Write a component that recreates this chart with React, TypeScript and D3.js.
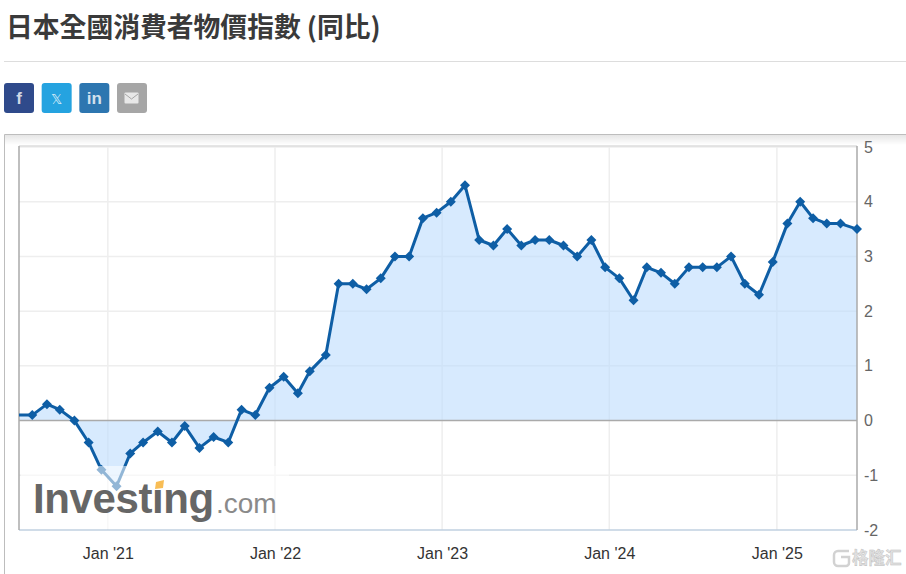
import * as d3 from "d3"
import { useEffect, useRef } from "react"

const WIDTH = 906
const HEIGHT = 574

const title = "日本全國消費者物價指數 (同比)"

// release dates, one per monthly reading
const releaseDates = [
  "2020-06-21", "2020-07-20", "2020-08-21", "2020-09-18", "2020-10-20", "2020-11-20", "2020-12-18",
  "2021-01-20", "2021-02-19", "2021-03-19", "2021-04-20", "2021-05-21", "2021-06-18", "2021-07-20",
  "2021-08-20", "2021-09-21", "2021-10-20", "2021-11-19", "2021-12-20",
  "2022-01-20", "2022-02-20", "2022-03-18", "2022-04-22", "2022-05-20", "2022-06-20", "2022-07-20",
  "2022-08-20", "2022-09-20", "2022-10-21", "2022-11-20", "2022-12-20",
  "2023-01-20", "2023-02-20", "2023-03-23", "2023-04-23", "2023-05-23", "2023-06-23", "2023-07-23",
  "2023-08-23", "2023-09-23", "2023-10-23", "2023-11-23", "2023-12-23",
  "2024-01-23", "2024-02-23", "2024-03-23", "2024-04-23", "2024-05-23", "2024-06-23", "2024-07-23",
  "2024-08-23", "2024-09-23", "2024-10-23", "2024-11-23", "2024-12-23",
  "2025-01-24", "2025-02-21", "2025-03-21", "2025-04-20", "2025-05-20", "2025-06-25",
]

const cpiValues = [
  0.1, 0.1, 0.3, 0.2, 0.0, -0.4, -0.9, -1.2, -0.6, -0.4, -0.2, -0.4, -0.1, -0.5, -0.3, -0.4, 0.2, 0.1, 0.6,
  0.8, 0.5, 0.9, 1.2, 2.5, 2.5, 2.4, 2.6, 3.0, 3.0, 3.7, 3.8, 4.0, 4.3, 3.3, 3.2, 3.5, 3.2, 3.3, 3.3, 3.2,
  3.0, 3.3, 2.8, 2.6, 2.2, 2.8, 2.7, 2.5, 2.8, 2.8, 2.8, 3.0, 2.5, 2.3, 2.9, 3.6, 4.0, 3.7, 3.6, 3.6, 3.5,
]

const yTicks = [-2, -1, 0, 1, 2, 3, 4, 5]
const xTicks = ["2021-01-01", "2022-01-01", "2023-01-01", "2024-01-01", "2025-01-01"]

const shareButtons = [
  { label: "f", color: "#2f4a8b" },
  { label: "𝕏", color: "#25a3e0" },
  { label: "in", color: "#2d76b0" },
  { label: "", color: "#a6a6a6" },
]

const parseDate = d3.utcParse("%Y-%m-%d")
const SANS = "'Liberation Sans', Arial, sans-serif"

const App = () => {
  const svgRef = useRef<SVGSVGElement>(null)

  useEffect(() => {
    if (!svgRef.current) return

    const svg = d3.select(svgRef.current)
    svg.selectAll("*").remove()

    const MARGIN = { top: 147, right: 49, bottom: 44, left: 19 }

    const data = releaseDates.map((d, i) => ({ date: parseDate(d) as Date, value: cpiValues[i] }))

    const xScale = d3
      .scaleUtc()
      .domain(d3.extent(data, (d) => d.date) as [Date, Date])
      .range([MARGIN.left, WIDTH - MARGIN.right])

    const yScale = d3
      .scaleLinear()
      .domain([-2, 5])
      .range([HEIGHT - MARGIN.bottom, MARGIN.top])

    // Title and divider
    svg
      .append("text")
      .attr("x", 6)
      .attr("y", 37)
      .attr("font-family", "'Noto Sans CJK TC', 'Noto Sans', sans-serif")
      .attr("font-size", "26.8px")
      .attr("font-weight", 700)
      .attr("fill", "#3a3a3a")
      .text(title)

    svg
      .append("line")
      .attr("x1", 4)
      .attr("x2", WIDTH)
      .attr("y1", 61.5)
      .attr("y2", 61.5)
      .attr("stroke", "#ddd")

    // Share buttons
    const buttonX = d3.scalePoint<number>().domain([0, 1, 2, 3]).range([4, 117])
    const buttons = svg
      .selectAll("g.share")
      .data(shareButtons)
      .join("g")
      .attr("class", "share")
      .attr("transform", (_, i) => `translate(${buttonX(i)}, 83)`)
    buttons
      .append("rect")
      .attr("width", 30)
      .attr("height", 30)
      .attr("rx", 3)
      .attr("fill", (d) => d.color)
    buttons
      .append("text")
      .attr("x", 15)
      .attr("y", 21)
      .attr("text-anchor", "middle")
      .attr("font-family", (d) => (d.label === "𝕏" ? "'DejaVu Sans', sans-serif" : SANS))
      .attr("font-size", (d) => (d.label === "𝕏" ? "14px" : "17px"))
      .attr("font-weight", (d) => (d.label === "𝕏" ? 400 : 700))
      .attr("fill", "#fff")
      .attr("fill-opacity", 0.8)
      .text((d) => d.label)
    // envelope on the last button
    const envelope = buttons.filter((d) => d.label === "")
    envelope
      .append("rect")
      .attr("x", 7.5)
      .attr("y", 9.5)
      .attr("width", 14)
      .attr("height", 11)
      .attr("rx", 1)
      .attr("fill", "#e8e8e8")
    envelope
      .append("path")
      .attr("d", "M8,11L14.5,16L21,11")
      .attr("fill", "none")
      .attr("stroke", "#a6a6a6")

    // Card frame with soft shadow under the top edge
    const defs = svg.append("defs")
    const shadow = defs
      .append("linearGradient")
      .attr("id", "card-shadow")
      .attr("x1", 0)
      .attr("x2", 0)
      .attr("y1", 0)
      .attr("y2", 1)
    shadow.append("stop").attr("offset", 0).attr("stop-color", "#000").attr("stop-opacity", 0.1)
    shadow.append("stop").attr("offset", 1).attr("stop-color", "#000").attr("stop-opacity", 0)
    svg
      .append("rect")
      .attr("x", 5)
      .attr("y", 135)
      .attr("width", WIDTH - 5)
      .attr("height", 10)
      .attr("fill", "url(#card-shadow)")
    svg
      .append("path")
      .attr("d", `M4.5,${HEIGHT}V134.5H${WIDTH}`)
      .attr("fill", "none")
      .attr("stroke", "#bdbdbd")

    // Grid
    const dates = xTicks.map((d) => parseDate(d) as Date)
    svg
      .selectAll("line.grid-y")
      .data(yTicks.filter((d) => d !== 0 && d !== -2))
      .join("line")
      .attr("class", "grid-y")
      .attr("x1", MARGIN.left)
      .attr("x2", WIDTH - MARGIN.right)
      .attr("y1", (d) => yScale(d))
      .attr("y2", (d) => yScale(d))
      .attr("stroke", "#eee")
      .attr("stroke-width", 1.5)
    svg
      .selectAll("line.grid-x")
      .data(dates)
      .join("line")
      .attr("class", "grid-x")
      .attr("x1", (d) => xScale(d))
      .attr("x2", (d) => xScale(d))
      .attr("y1", MARGIN.top)
      .attr("y2", HEIGHT - MARGIN.bottom)
      .attr("stroke", "#eee")
      .attr("stroke-width", 1.5)

    // Area down to zero
    svg
      .append("path")
      .datum(data)
      .attr("fill", "#bcdcfd")
      .attr("fill-opacity", 0.6)
      .attr(
        "d",
        d3
          .area<{ date: Date; value: number }>()
          .x((d) => xScale(d.date))
          .y0(yScale(0))
          .y1((d) => yScale(d.value)),
      )

    // Plot borders
    svg
      .append("line")
      .attr("x1", MARGIN.left)
      .attr("x2", WIDTH - MARGIN.right)
      .attr("y1", yScale(0))
      .attr("y2", yScale(0))
      .attr("stroke", "#aaa")
      .attr("stroke-width", 1.5)
    svg
      .append("line")
      .attr("x1", MARGIN.left)
      .attr("x2", WIDTH - MARGIN.right)
      .attr("y1", MARGIN.top - 1)
      .attr("y2", MARGIN.top - 1)
      .attr("stroke", "#ddd")
      .attr("stroke-width", 1.5)
    svg
      .append("line")
      .attr("x1", MARGIN.left)
      .attr("x2", WIDTH - MARGIN.right)
      .attr("y1", yScale(-2))
      .attr("y2", yScale(-2))
      .attr("stroke", "#c0d0e0")
      .attr("stroke-width", 1.5)
    svg
      .selectAll("line.side")
      .data([MARGIN.left, WIDTH - MARGIN.right])
      .join("line")
      .attr("class", "side")
      .attr("x1", (d) => d)
      .attr("x2", (d) => d)
      .attr("y1", MARGIN.top - 1)
      .attr("y2", yScale(-2))
      .attr("stroke", "#aaa")
      .attr("stroke-width", 1.5)

    // Line and markers
    svg
      .append("path")
      .datum(data)
      .attr("fill", "none")
      .attr("stroke", "#0e5ea5")
      .attr("stroke-width", 3)
      .attr("stroke-linejoin", "round")
      .attr(
        "d",
        d3
          .line<{ date: Date; value: number }>()
          .x((d) => xScale(d.date))
          .y((d) => yScale(d.value)),
      )

    const diamond = d3.symbol().type(d3.symbolSquare).size(50)
    svg
      .selectAll("path.marker")
      .data(data.slice(1))
      .join("path")
      .attr("class", "marker")
      .attr("d", diamond)
      .attr("transform", (d) => `translate(${xScale(d.date)}, ${yScale(d.value)}) rotate(45)`)
      .attr("fill", "#0e5ea5")

    // Y axis on the right
    const yAxis = svg
      .append("g")
      .attr("transform", `translate(${WIDTH - MARGIN.right}, 0)`)
      .call(
        d3
          .axisRight(yScale)
          .tickValues(yTicks)
          .tickSize(0)
          .tickPadding(7)
          .tickFormat((d) => `${d}`),
      )
    yAxis.select(".domain").remove()
    yAxis
      .selectAll("text")
      .attr("font-family", SANS)
      .attr("font-size", "16px")
      .attr("fill", "#666")

    // X axis
    const xAxis = svg
      .append("g")
      .attr("transform", `translate(0, ${HEIGHT - MARGIN.bottom})`)
      .call(
        d3
          .axisBottom(xScale)
          .tickValues(dates)
          .tickSize(0)
          .tickPadding(18)
          .tickFormat((d) => d3.utcFormat("Jan '%y")(d as Date)),
      )
    xAxis.select(".domain").remove()
    xAxis
      .selectAll("text")
      .attr("font-family", SANS)
      .attr("font-size", "16px")
      .attr("fill", "#333")

    // Investing.com watermark sits over the plot
    svg
      .append("rect")
      .attr("x", 21)
      .attr("y", 466)
      .attr("width", 268)
      .attr("height", 63)
      .attr("fill", "#fff")
      .attr("fill-opacity", 0.55)
    svg
      .append("text")
      .attr("x", 33)
      .attr("y", 513)
      .attr("font-family", SANS)
      .attr("font-size", "42px")
      .attr("font-weight", 700)
      .attr("letter-spacing", "-0.4px")
      .attr("fill", "#666")
      .text("Investing")
    svg
      .append("rect")
      .attr("x", 154)
      .attr("y", 480)
      .attr("width", 15)
      .attr("height", 9.5)
      .attr("fill", "#fff")
    svg
      .append("polygon")
      .attr("points", "156,482 164,480 163,488 155,489")
      .attr("fill", "#f8bd55")
    svg
      .append("text")
      .attr("x", 216)
      .attr("y", 513)
      .attr("font-family", SANS)
      .attr("font-size", "28px")
      .attr("fill", "#8a8a8a")
      .text(".com")

    // Corner stamp
    const stamp = svg.append("g")
    stamp
      .append("path")
      .attr("d", "M849,551H838a4,4 0 0 0 -4,4V562a4,4 0 0 0 4,4H846a3,3 0 0 0 3,-3V557H841")
      .attr("fill", "none")
      .attr("stroke", "#d2d2d2")
      .attr("stroke-width", 2.5)
    stamp
      .append("text")
      .attr("x", 852)
      .attr("y", 564)
      .attr("font-family", "'Noto Sans CJK SC', sans-serif")
      .attr("font-size", "16.5px")
      .attr("font-weight", 700)
      .attr("fill", "#e2e2e2")
      .attr("stroke", "#bbb")
      .attr("stroke-width", 0.4)
      .text("格隆汇")
  }, [])

  return (
    <svg
      ref={svgRef}
      width={WIDTH}
      height={HEIGHT}
      style={{ position: "absolute", left: 0, top: 0, display: "block", background: "#fff" }}
    />
  )
}

export default App
